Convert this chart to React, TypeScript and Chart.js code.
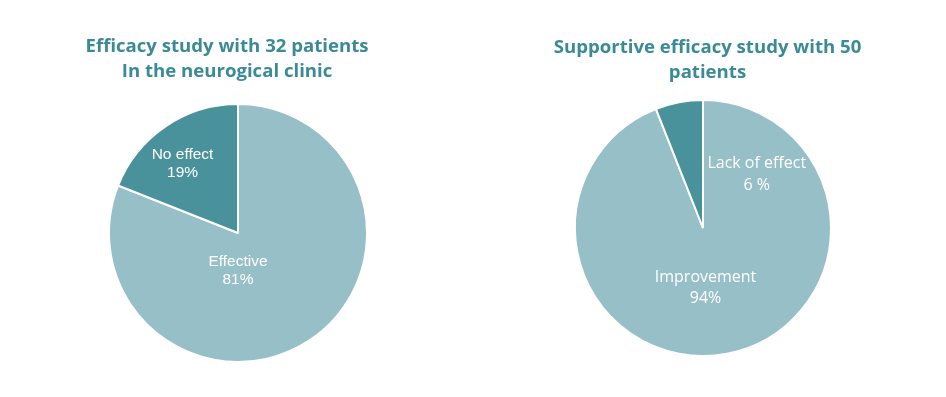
import React, { useEffect, useRef } from "react";
import { Chart, registerables } from "chart.js";

Chart.register(...registerables);

const leftTitle = ["Efficacy study with 32 patients", "In the neurogical clinic"];
const leftLabels = ["Effective", "No effect"];
const leftValues = [81, 19];
const leftValueText = ["81%", "19%"];

const rightTitle = ["Supportive efficacy study with 50", "patients"];
const rightLabels = ["Improvement", "Lack of effect"];
const rightValues = [94, 6];
const rightValueText = ["94%", "6 %"];

const LIGHT = "#97bfc8";
const DARK = "#4a929b";
const TITLE_COLOR = "#3b8a97";

type LabelPos = { dx: number; dy: number };

const titlePlugin = {
  id: "multiTitle",
  afterDraw(chart: any, _args: any, opts: any) {
    const ctx = chart.ctx;
    const lines: string[] = opts.lines;
    ctx.save();
    ctx.fillStyle = opts.color;
    ctx.font = opts.font;
    ctx.textAlign = "center";
    ctx.textBaseline = "alphabetic";
    const cx = chart.width / 2 + opts.offsetX;
    lines.forEach((l, i) => ctx.fillText(l, cx, opts.baseline + i * opts.lineHeight));
    ctx.restore();
  },
};

const sliceLabelPlugin = {
  id: "sliceLabels",
  afterDatasetsDraw(chart: any, _args: any, opts: any) {
    const meta = chart.getDatasetMeta(0);
    const ctx = chart.ctx;
    const texts: string[] = opts.texts;
    const names: string[] = chart.data.labels;
    const pos: LabelPos[] = opts.positions;
    ctx.save();
    ctx.fillStyle = "#ffffff";
    ctx.textAlign = "center";
    ctx.textBaseline = "middle";
    ctx.font = opts.font;
    meta.data.forEach((arc: any, i: number) => {
      const { x, y, outerRadius } = arc.getProps(["x", "y", "outerRadius"], true);
      const cx = x + pos[i].dx * outerRadius;
      const cy = y + pos[i].dy * outerRadius;
      const lh = opts.lineHeight;
      ctx.fillText(names[i], cx, cy - lh / 2);
      ctx.fillText(texts[i], cx, cy + lh / 2);
    });
    ctx.restore();
  },
};

function PieChart(props: {
  title: string[];
  labels: string[];
  values: number[];
  valueText: string[];
  positions: LabelPos[];
  labelFont: string;
  labelLineHeight: number;
  topPad: number;
  bottomPad: number;
  titleOffsetX: number;
  titleBaseline: number;
  left: number;
}) {
  const ref = useRef<HTMLCanvasElement | null>(null);
  useEffect(() => {
    if (!ref.current) return;
    const chart = new Chart(ref.current, {
      type: "pie",
      data: {
        labels: props.labels,
        datasets: [
          {
            data: props.values,
            backgroundColor: [LIGHT, DARK],
            borderColor: "#ffffff",
            borderWidth: 2,
          },
        ],
      },
      options: {
        animation: false,
        responsive: false,
        layout: { padding: { top: props.topPad, bottom: props.bottomPad } },
        plugins: {
          legend: { display: false },
          tooltip: { enabled: false },
          title: { display: false },
          multiTitle: {
            lines: props.title,
            color: TITLE_COLOR,
            font: "bold 18.6px 'Open Sans', sans-serif",
            offsetX: props.titleOffsetX,
            baseline: props.titleBaseline,
            lineHeight: 24.5,
          },
          sliceLabels: {
            texts: props.valueText,
            positions: props.positions,
            font: props.labelFont,
            lineHeight: props.labelLineHeight,
          },
        } as any,
      },
      plugins: [titlePlugin, sliceLabelPlugin],
    });
    return () => chart.destroy();
  }, []);
  return (
    <div style={{ position: "absolute", left: props.left, top: 0, width: 460, height: 397 }}>
      <canvas ref={ref} width={460} height={397} style={{ width: 460, height: 397 }} />
    </div>
  );
}

export default function App() {
  return (
    <div style={{ position: "absolute", left: 0, top: 0, width: 946, height: 397, background: "#fff" }}>
      <PieChart
        title={leftTitle}
        labels={leftLabels}
        values={leftValues}
        valueText={leftValueText}
        positions={[
          { dx: 0, dy: 0.29 },
          { dx: -0.43, dy: -0.54 },
        ]}
        labelFont="15.5px 'Liberation Sans', Arial, sans-serif"
        labelLineHeight={18}
        topPad={103}
        bottomPad={34}
        titleOffsetX={-11}
        titleBaseline={52}
        left={8}
      />
      <PieChart
        title={rightTitle}
        labels={rightLabels}
        values={rightValues}
        valueText={rightValueText}
        positions={[
          { dx: 0.02, dy: 0.468 },
          { dx: 0.42, dy: -0.417 },
        ]}
        labelFont="16px 'Open Sans', sans-serif"
        labelLineHeight={21.5}
        topPad={99}
        bottomPad={40}
        titleOffsetX={4.5}
        titleBaseline={53}
        left={473}
      />
    </div>
  );
}
